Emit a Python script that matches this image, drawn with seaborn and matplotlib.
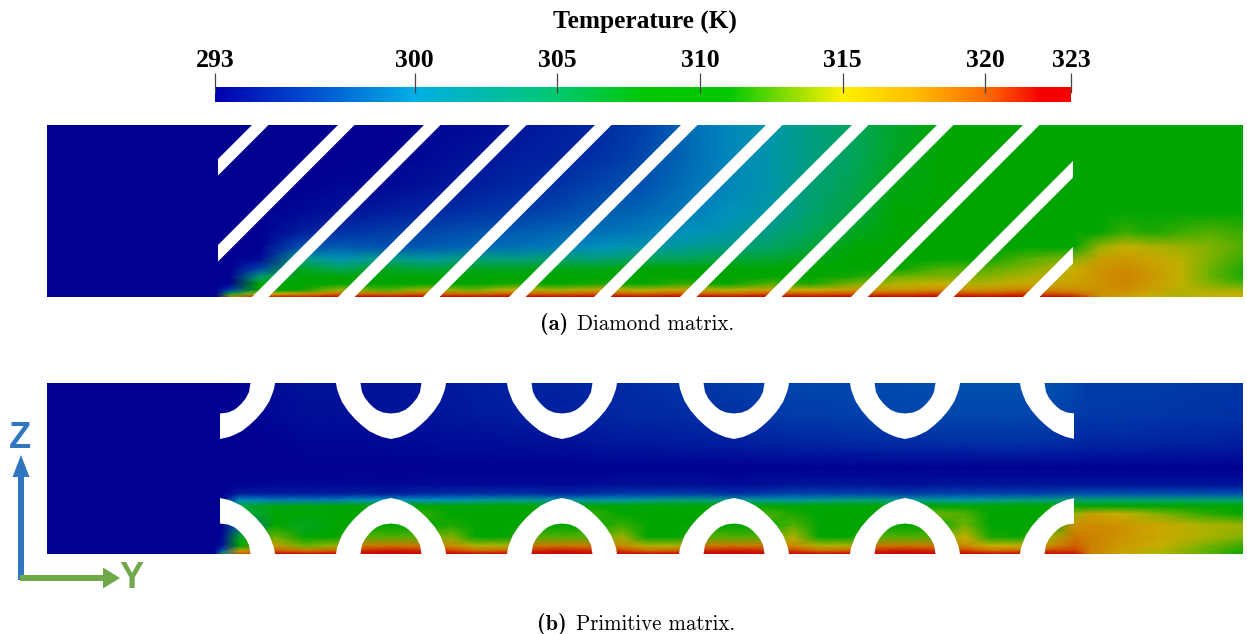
# Temperature fields for the diamond and primitive matrix, drawn with sns.heatmap
import numpy as np
import matplotlib
matplotlib.use("Agg")
import matplotlib.pyplot as plt
import seaborn as sns
from matplotlib.cm import ScalarMappable
from matplotlib.colors import LinearSegmentedColormap, Normalize
from matplotlib.patches import Polygon, Rectangle

sns.set_style("white")
plt.rcParams["text.color"] = "black"
plt.rcParams["xtick.color"] = "black"

W, H = 1247, 634

# colour bar
bar_title = "Temperature (K)"
bar_ticks = [293, 300, 305, 310, 315, 320, 323]
cmap_temps = [293, 296, 300, 305, 308, 311, 313, 315, 317.5, 320, 322, 323]
bar_colors = [(0, 0, 175), (0, 70, 205), (0, 175, 230), (0, 200, 110), (0, 200, 5), (0, 200, 0),
              (130, 220, 0), (255, 240, 0), (255, 190, 0), (255, 110, 0), (245, 0, 0), (245, 0, 0)]
# the rendered fields are shaded darker than the colour bar
field_colors = [(0, 0, 145), (0, 60, 170), (0, 145, 190), (0, 165, 90), (0, 165, 4), (0, 165, 0),
                (108, 178, 0), (200, 176, 0), (205, 140, 0), (205, 85, 0), (200, 0, 0), (200, 0, 0)]

# panel (a): stations in picture pixels, one list of temperatures per x station, top to bottom
diamond_y = [125, 157, 187, 212, 232, 247, 259, 269, 277, 284, 290, 294, 297]
diamond_x = [47, 216, 230, 260, 300, 340, 385, 430, 470, 515, 555, 600, 640, 685, 725, 770,
             810, 855, 895, 940, 980, 1025, 1073, 1100, 1125, 1150, 1180, 1210, 1243]
diamond_temps = [
    [293, 293, 293, 293, 293, 293, 293, 293, 293, 293, 293, 293, 293],
    [293, 293, 293, 293, 293, 293, 293, 293, 293, 293, 293, 293, 293],
    [293, 293, 293, 293, 293, 293, 293, 293, 293, 293, 296, 306, 318],
    [293, 293, 293, 293, 293, 293, 293.5, 296.5, 304, 308, 310.5, 315, 321],
    [293, 293, 293, 293.5, 294.5, 297, 303, 307, 308, 308.5, 311, 316.5, 321.5],
    [293, 293, 293.3, 294, 295.5, 297.5, 300.5, 305, 308.5, 310.5, 314, 319, 322],
    [293, 293, 293.5, 294.5, 296, 297, 303, 307, 308, 309, 312.5, 318.5, 322],
    [293.3, 293.5, 294, 295, 296.5, 297.5, 301.5, 306, 308.5, 311, 314.5, 319.5, 322],
    [293.5, 294, 294.5, 295.5, 297, 298, 303.5, 307, 308, 309.5, 313, 318.5, 322],
    [294, 294.5, 295, 296, 297.5, 298.5, 303, 307, 309, 311.5, 315, 319.5, 322],
    [294.5, 294.8, 295.5, 296.5, 298, 299, 304, 307.5, 308.5, 310, 314, 319, 322],
    [295, 295.5, 296.5, 297.5, 298.5, 300, 303.5, 307.5, 309, 311.5, 316, 320, 322],
    [296, 296.5, 297, 298, 299, 301, 305, 308, 309, 310, 314.5, 319, 322],
    [298, 298, 298.5, 299, 300, 302, 305, 308, 309.5, 312, 316, 320, 322],
    [299.5, 299.5, 299.5, 300, 301, 303, 306, 308, 309, 310.5, 314.5, 319, 322],
    [301, 301, 301, 301.5, 303, 304.5, 306.5, 308.5, 310, 312.5, 316, 320, 322],
    [303, 303, 303.5, 304, 305, 306, 307.5, 308.5, 309.5, 311.5, 315, 319.5, 322],
    [305, 305, 305.5, 306, 307, 308, 308.5, 309.5, 311.5, 313.5, 316.5, 320, 322.5],
    [306.5, 307, 307.5, 308, 308.5, 309, 309.5, 311, 313, 314.5, 316.5, 320, 322.5],
    [308, 308.5, 308.5, 309, 309, 309.5, 310.5, 312.5, 313.5, 315, 317.5, 320.5, 322.5],
    [309, 309, 309, 309, 309, 309.5, 311, 312.5, 313.5, 314.5, 317, 320, 322.5],
    [309, 309, 309, 309, 309.5, 311, 312.5, 313.5, 314.5, 315.5, 318, 320.5, 322.5],
    [309, 309, 309, 309.5, 310, 311, 313.5, 315, 315.5, 316, 317.5, 319.5, 321.5],
    [309, 309, 309, 309.5, 311, 314, 316, 317, 317, 317, 317, 317, 317],
    [309, 309, 309, 309.5, 312, 315, 316.5, 317.5, 317.8, 317.8, 317.3, 316.8, 316],
    [309, 309, 309, 309.5, 311.5, 314.5, 315.8, 316.5, 316.8, 316.5, 316, 315.5, 315],
    [309, 309, 309, 310, 312, 314, 314.7, 314.8, 314.8, 314.8, 314.6, 314.5, 314.5],
    [309, 309, 309, 310.5, 312.5, 313.5, 313.3, 313, 313, 313.5, 314.3, 314.8, 314.8],
    [309, 309, 309.5, 311, 312, 312.5, 312, 311.5, 311.5, 312.5, 314, 314.8, 314.8],
]
# x + y of the upper edge of each slanted strut
strut_offsets = [377, 463, 549, 635, 720, 806, 891, 977, 1062, 1148, 1234, 1320]
strut_width = 16.5

# panel (b)
primitive_y = [383, 415, 445, 468, 485, 494, 500, 506, 514, 525, 537, 546, 551, 554]
primitive_x = [47, 214, 222, 240, 275, 305, 335,
               361, 391, 421, 451, 476, 506,
               532, 562, 592, 622, 647, 677,
               704, 734, 764, 794, 819, 849,
               875, 905, 935, 965, 990, 1020,
               1050, 1075, 1090, 1120, 1160, 1200, 1243]
primitive_temps = [
    [293, 293, 293, 293, 293, 293, 293, 293, 293, 293, 293, 293, 293, 293],
    [293, 293, 293, 293, 293, 293, 293, 293, 293, 293, 293, 293, 293, 293],
    [293, 293, 293, 293, 293, 293, 293, 293, 293, 293, 293.3, 294, 297, 305],
    [293.3, 293, 293, 293, 293.2, 294.5, 300, 306, 305, 298, 307, 311, 316, 320],
    [293.7, 293.5, 293, 293, 293.3, 294.5, 299, 307.5, 309, 311, 313, 316.5, 320, 322],
    [294, 293.8, 293.3, 293, 293.3, 294.5, 299, 307.5, 308, 307, 308.5, 313, 318.5, 322],
    [294, 293.8, 293.3, 293, 293.3, 294.5, 299, 308, 308.5, 308.5, 310, 314, 319.5, 322],
    [294, 293.8, 293.3, 293, 293.5, 294.8, 300, 308, 309, 309.5, 312.5, 318.5, 321, 322.5],
    [294, 294, 293.5, 293, 293.3, 294.5, 300, 308, 309, 309, 312.5, 318.5, 321.5, 322.5],
    [294.2, 294, 293.5, 293, 293.5, 295, 300, 309.5, 312, 310, 312.5, 318.5, 321, 322.5],
    [294.3, 294.2, 293.6, 293, 293.5, 295.5, 300, 308.5, 311, 311.5, 313.5, 317.5, 320.5, 322],
    [294.5, 294.3, 293.6, 293, 293.5, 295.5, 301, 308.5, 309, 309.5, 310.5, 314.5, 319, 322],
    [294.6, 294.5, 293.7, 293, 293.5, 295.5, 302, 308.5, 309, 309, 310.5, 314.5, 319.5, 322],
    [294.7, 294.6, 293.8, 293, 293.6, 295.5, 302, 308.5, 309.5, 310, 312.5, 318.5, 321, 322.5],
    [294.8, 294.6, 293.8, 293, 293.5, 295, 301, 308, 309, 309, 312.5, 318.5, 321.5, 322.5],
    [295, 294.8, 294, 293, 293.6, 295.5, 301, 309.5, 312, 310, 312.5, 318.5, 321, 322.5],
    [295.2, 295, 294.2, 293, 293.8, 296, 301, 308.5, 311, 312, 314, 317.5, 320.5, 322],
    [295.4, 295, 294.2, 293, 293.8, 296, 302, 308.5, 309.5, 309.5, 310.5, 314.5, 319, 322],
    [295.6, 295.2, 294.3, 293, 293.8, 296, 303, 308.5, 309, 309, 310.5, 314.5, 319.5, 322],
    [295.8, 295.4, 294.4, 293, 293.8, 296, 303, 308.5, 309.5, 310, 312.5, 318.5, 321, 322.5],
    [296, 295.5, 294.5, 293, 293.6, 295.5, 302, 308, 309, 309, 312.5, 318.5, 321.5, 322.5],
    [296.2, 295.8, 294.6, 293, 293.8, 296, 302, 309.5, 312.5, 310, 312.5, 318.5, 321, 322.5],
    [296.4, 296, 294.8, 293, 294, 296.5, 301, 308.5, 311.5, 312.5, 314.5, 317.5, 320.5, 322],
    [296.5, 296, 294.8, 293, 294, 296.5, 302, 308.5, 310, 310, 311, 314.5, 319, 322],
    [296.6, 296.2, 294.9, 293, 294, 296.5, 303, 308.5, 309, 309, 310.5, 314.5, 319.5, 322],
    [296.7, 296.3, 295, 293, 294, 296.5, 303, 308.5, 309.5, 310, 312.5, 318.5, 321, 322.5],
    [296.8, 296.4, 295, 293, 293.8, 296, 302, 308, 309, 309, 312.5, 318.5, 321.5, 322.5],
    [296.9, 296.5, 295.2, 293, 294, 296.5, 302, 309.5, 313, 310, 312.5, 318.5, 321, 322.5],
    [297, 296.5, 295.2, 293, 294, 296.5, 301, 308.5, 312.5, 313, 315, 317.5, 320.5, 322],
    [297, 296.5, 295.3, 293, 294, 296.5, 302, 308.5, 311, 310.5, 311.5, 315, 319, 322],
    [297, 296.5, 295.3, 293, 294, 296.5, 303, 308.5, 309.5, 309.5, 311, 315, 319.5, 322],
    [297, 296.4, 295.2, 293, 294, 296.5, 303, 309, 309.5, 311, 314, 317.5, 320.5, 322],
    [296.5, 296, 295, 293, 294, 297, 304, 310, 314, 317, 318.5, 319.5, 320.5, 321.5],
    [296, 295.8, 294.8, 293, 294, 297, 304, 310, 316, 317.5, 318, 318, 318, 318],
    [296, 295.8, 294.8, 293, 294, 297, 304, 309.5, 315, 317, 317, 316.5, 316, 316],
    [296, 295.7, 294.7, 293, 294, 297, 304, 309.5, 313.5, 315.5, 315.5, 315, 314.5, 314.5],
    [295.8, 295.6, 294.6, 293, 294, 297, 304, 309, 312, 314.5, 314.5, 313.5, 313, 313],
    [295.7, 295.5, 294.5, 293, 294, 297, 304, 309, 311, 314, 313.5, 312, 311.5, 311],
]
# half of a lobe: offset from its centre and depth from the wall
lobe_centers = [220, 391, 562, 734, 905, 1075]
outer_dx = [0, 9, 15, 22, 29, 36, 43, 49, 51.5, 54, 55]
outer_dy = [56, 54, 51.5, 48, 42.5, 36, 28, 19, 13, 6, 0]
inner_dx = [30.5, 29, 26, 22, 18, 14, 8, 0]
inner_dy = [0, 9, 15, 20, 24, 27, 29.5, 30.5]

captions = [("(a)", "Diamond matrix.", 540, 577, 324),
            ("(b)", "Primitive matrix.", 537, 576, 624)]


def px_axes(x0, y0, x1, y1, **kw):
    return fig.add_axes([x0 / W, 1 - y1 / H, (x1 - x0) / W, (y1 - y0) / H], **kw)


def draw_field(xs, ys, temps):
    ax = px_axes(xs[0], ys[0], xs[-1], ys[-1])
    grid = np.array(temps).T
    sns.heatmap(grid, ax=ax, cmap=field_cmap, vmin=293, vmax=323, cbar=False,
                xticklabels=False, yticklabels=False, shading="gouraud")
    # the stations are not evenly spaced, so the axes scales map index to pixel
    ix, iy = np.arange(len(xs)), np.arange(len(ys))
    ax.set_xscale("function", functions=(lambda v: np.interp(v, ix, xs), lambda v: np.interp(v, xs, ix)))
    ax.set_yscale("function", functions=(lambda v: np.interp(v, iy, ys), lambda v: np.interp(v, ys, iy)))
    ax.set_xlim(0, len(xs) - 1)
    ax.set_ylim(len(ys) - 1, 0)
    ax.axis("off")
    return ax


fig = plt.figure(figsize=(W / 100, H / 100), dpi=100)

pos = (np.array(cmap_temps) - 293) / 30
bar_cmap = LinearSegmentedColormap.from_list("bar", list(zip(pos, np.array(bar_colors) / 255)), N=512)
field_cmap = LinearSegmentedColormap.from_list("field", list(zip(pos, np.array(field_colors) / 255)), N=512)

draw_field(diamond_x, diamond_y, diamond_temps)
draw_field(primitive_x, primitive_y, primitive_temps)

# colour bar
cax = px_axes(215, 87, 1071, 102)
cbar = fig.colorbar(ScalarMappable(Normalize(293, 323), bar_cmap), cax=cax, orientation="horizontal")
cbar.outline.set_visible(False)
cbar.set_ticks(bar_ticks)
cax.xaxis.set_ticks_position("top")
cax.tick_params(length=0, pad=11)
cax.set_xticklabels([str(t) for t in bar_ticks], family="Liberation Serif", weight="bold", fontsize=18.5)
cax.vlines(bar_ticks, 0.6, 1.93, transform=cax.get_xaxis_transform(), color="#444444", lw=0.9, clip_on=False)

# overlay in picture pixels: walls of the matrix, axes triad, captions
ov = fig.add_axes([0, 0, 1, 1], zorder=5)
ov.set_xlim(0, W)
ov.set_ylim(H, 0)
ov.axis("off")

clip_a = Rectangle((218, 120), 1073 - 218, 180, transform=ov.transData)
for c in strut_offsets:
    strut = Polygon([(c - 100, 100), (c - 320, 320), (c + strut_width - 320, 320), (c + strut_width - 100, 100)],
                    fc="white", ec="none")
    ov.add_patch(strut)
    strut.set_clip_path(clip_a)

clip_b = Rectangle((219.5, 370), 1074 - 219.5, 190, transform=ov.transData)
half_out = np.column_stack([outer_dx, outer_dy])
half_in = np.column_stack([inner_dx, inner_dy])
for cx in lobe_centers:
    for wall, sign in [(383, 1), (554, -1)]:
        pts = np.vstack([half_out[::-1] * [-1, 1], half_out, half_in, half_in[::-1] * [-1, 1]])
        shape = Polygon(np.column_stack([cx + pts[:, 0], wall + sign * pts[:, 1]]), fc="white", ec="none")
        ov.add_patch(shape)
        shape.set_clip_path(clip_b)

# axes triad
blue, green = "#2f75bf", "#70a84a"
ov.arrow(21, 580, 0, -125, width=6, head_width=17, head_length=22, length_includes_head=True, fc=blue, ec="none")
ov.arrow(20, 578, 100, 0, width=6, head_width=21, head_length=17, length_includes_head=True, fc=green, ec="none")
ov.text(20, 438, "Z", color=blue, family=["Liberation Sans Narrow", "Liberation Sans"], weight="bold",
        fontsize=26, ha="center", va="center")
ov.text(131, 579, "Y", color=green, family=["Liberation Sans Narrow", "Liberation Sans"], weight="bold",
        fontsize=26, ha="center", va="center")

ov.text(645, 22, bar_title, family="Liberation Serif", weight="bold", fontsize=18.3, ha="center", va="center")
for tag, label, x_tag, x_label, y in captions:
    ov.text(x_tag, y, tag, family="cmb10", fontsize=16, ha="left", va="center")
    ov.text(x_label, y, label, family="cmr10", fontsize=15.1, ha="left", va="center")

fig.savefig("out.png", dpi=100)
